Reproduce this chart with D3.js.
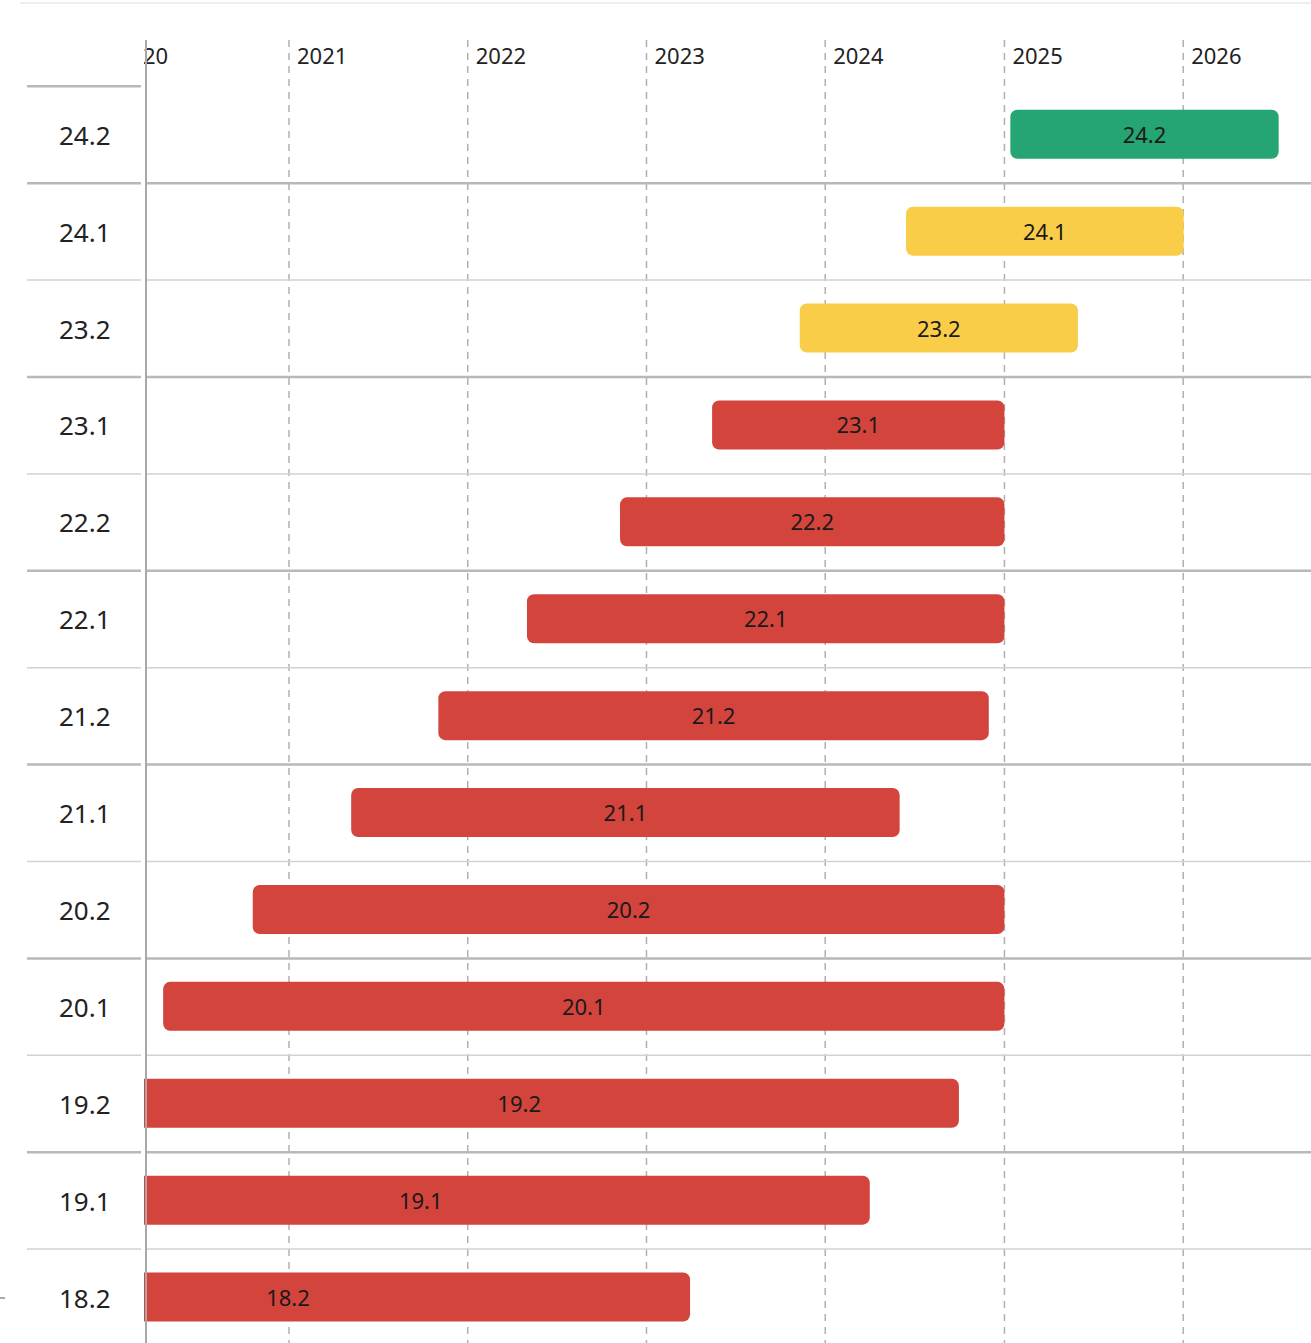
<html>
<head>
<meta charset="UTF-8">
<script src="https://d3js.org/d3.v7.min.js"></script>
<style>
body { margin: 0; background: #fff; }
svg { display: block; font-family: "Noto Sans", "Open Sans", sans-serif; }
</style>
</head>
<body>
<svg id="chart" width="1311" height="1343"></svg>
<script>
// versiones, de la más nueva a la más vieja
var versions = ["24.2", "24.1", "23.2", "23.1", "22.2", "22.1", "21.2", "21.1", "20.2", "20.1", "19.2", "19.1", "18.2"];
var starts = ["2025-01-13", "2024-06-14", "2023-11-10", "2023-05-15", "2022-11-08", "2022-05-02", "2021-11-02", "2021-05-08", "2020-10-19", "2020-04-19", "2019-10-31", "2019-03-25", "2018-10-01"];
var ends = ["2026-07-15", "2026-01-02", "2025-05-31", "2025-01-01", "2025-01-01", "2025-01-01", "2024-11-30", "2024-06-01", "2025-01-01", "2025-01-01", "2024-09-30", "2024-04-01", "2023-03-31"];
var supportStates = ["current", "supported", "supported", "ended", "ended", "ended", "ended", "ended", "ended", "ended", "ended", "ended", "ended"];
var years = ["2020", "2021", "2022", "2023", "2024", "2025", "2026"];

var parse = d3.timeParse("%Y-%m-%d");
var data = versions.map((v, i) => ({ v: v, start: parse(starts[i]), end: parse(ends[i]), state: supportStates[i] }));

var svg = d3.select("#chart");
var plotLeft = 146, plotRight = 1311, plotTop = 40, plotBottom = 1343;
var rowTop = 86.3, rowH = 96.9;

var x = d3.scaleTime()
	.domain([parse("2020-03-15"), parse("2026-09-19")])
	.range([plotLeft, plotRight]);

var y = d3.scaleBand()
	.domain(versions)
	.range([rowTop, rowTop + rowH * versions.length]);

var color = d3.scaleOrdinal()
	.domain(["current", "supported", "ended"])
	.range(["#26a574", "#facd49", "#d2443c"]);

// linea clara arriba
svg.append("line")
	.attr("x1", 20).attr("x2", plotRight)
	.attr("y1", 3).attr("y2", 3)
	.attr("stroke", "#eeeeee").attr("stroke-width", 2);

svg.append("clipPath").attr("id", "clip")
	.append("rect").attr("x", plotLeft - 2).attr("y", 0).attr("width", plotRight - plotLeft + 2).attr("height", plotBottom);

var plot = svg.append("g").attr("clip-path", "url(#clip)");

// rejilla de años
var ticks = years.map(t => parse(t + "-01-01"));
plot.selectAll(".grid").data(ticks).enter().append("line")
	.attr("class", "grid")
	.attr("x1", d => x(d)).attr("x2", d => x(d))
	.attr("y1", plotTop).attr("y2", plotBottom)
	.attr("stroke", "#b0b0b0").attr("stroke-width", 1.5)
	.attr("stroke-dasharray", "7,6");

plot.selectAll(".tick-label").data(ticks).enter().append("text")
	.attr("class", "tick-label")
	.attr("x", d => x(d) + 8).attr("y", 64)
	.attr("font-size", 22).attr("fill", "#222")
	.text(d => d3.timeFormat("%Y")(d));

// separadores de filas: gruesos entre años, finos entre .1 y .2
var lines = d3.range(versions.length + 1);
var thick = d => d == 0 || d % 2 == 1;
svg.selectAll(".row-left").data(lines).enter().append("line")
	.attr("class", "row-left")
	.attr("x1", 27).attr("x2", 141)
	.attr("y1", d => rowTop + d * rowH).attr("y2", d => rowTop + d * rowH)
	.attr("stroke", d => thick(d) ? "#b8b8b8" : "#d2d2d2")
	.attr("stroke-width", d => thick(d) ? 2.5 : 1.5);

svg.selectAll(".row-right").data(lines.slice(1)).enter().append("line")
	.attr("class", "row-right")
	.attr("x1", plotLeft).attr("x2", plotRight)
	.attr("y1", d => rowTop + d * rowH).attr("y2", d => rowTop + d * rowH)
	.attr("stroke", d => thick(d) ? "#b8b8b8" : "#d2d2d2")
	.attr("stroke-width", d => thick(d) ? 2.5 : 1.5);

// eje vertical
svg.append("line")
	.attr("x1", plotLeft).attr("x2", plotLeft)
	.attr("y1", plotTop).attr("y2", plotBottom)
	.attr("stroke", "#a8a8a8").attr("stroke-width", 2);

// etiquetas de filas
svg.selectAll(".row-label").data(versions).enter().append("text")
	.attr("class", "row-label")
	.attr("x", 59).attr("y", d => y(d) + y.bandwidth() / 2 + 10)
	.attr("font-size", 26).attr("fill", "#222")
	.text(d => d);

// barras
var barH = 49;
plot.selectAll(".bar").data(data).enter().append("rect")
	.attr("class", "bar")
	.attr("x", d => x(d.start)).attr("width", d => x(d.end) - x(d.start))
	.attr("y", d => y(d.v) + y.bandwidth() / 2 - barH / 2 - 0.5).attr("height", barH)
	.attr("rx", 7)
	.attr("fill", d => color(d.state));

plot.selectAll(".bar-label").data(data).enter().append("text")
	.attr("class", "bar-label")
	.attr("x", d => (x(d.start) + x(d.end)) / 2)
	.attr("y", d => y(d.v) + y.bandwidth() / 2 + 8)
	.attr("text-anchor", "middle")
	.attr("font-size", 22).attr("fill", "#1a1a1a")
	.text(d => d.v);

// marquita abajo a la izquierda
svg.append("line")
	.attr("x1", 0).attr("x2", 5).attr("y1", 1298).attr("y2", 1298)
	.attr("stroke", "#555").attr("stroke-width", 1);
</script>
</body>
</html>
